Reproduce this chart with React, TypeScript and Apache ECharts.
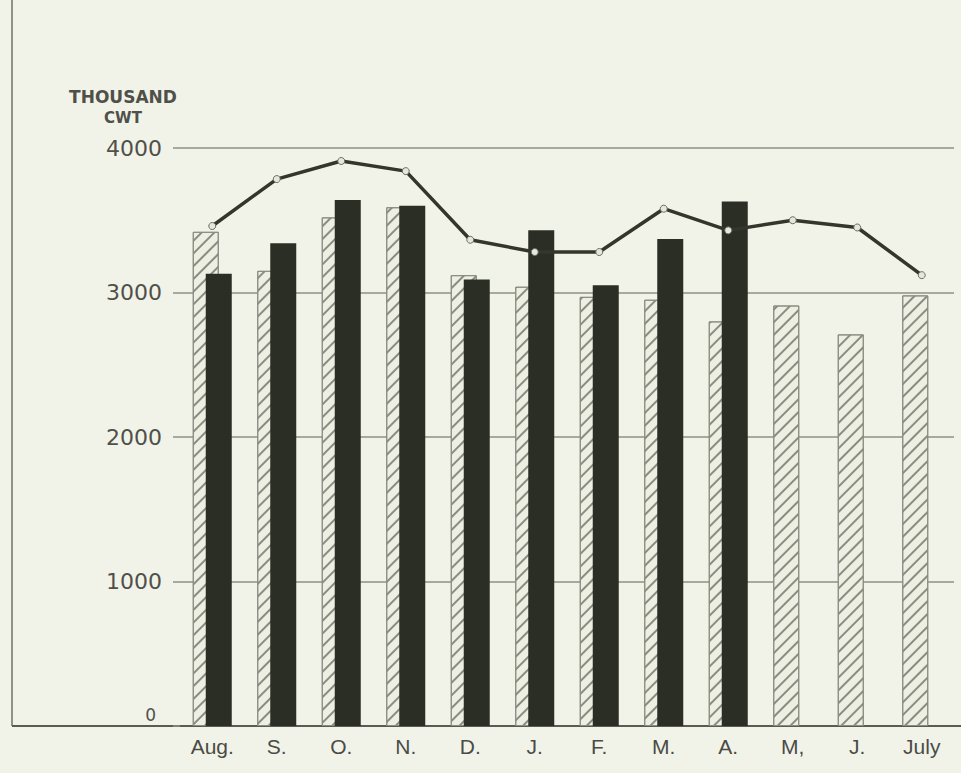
import React, { useEffect, useRef } from "react";
import * as echarts from "echarts";

const months = ["Aug.", "S.", "O.", "N.", "D.", "J.", "F.", "M.", "A.", "M,", "J.", "July"];
const hatchedValues = [3420, 3150, 3520, 3590, 3120, 3040, 2970, 2950, 2800, 2910, 2710, 2980];
const blackValues: (number | null)[] = [3130, 3340, 3640, 3600, 3090, 3430, 3050, 3370, 3630, null, null, null];
const lineValues = [3460, 3785, 3910, 3840, 3365, 3280, 3280, 3580, 3430, 3500, 3450, 3120];
const yTicks = { min: 0, max: 4000, interval: 1000 };

export default function App() {
  const ref = useRef<HTMLDivElement>(null);
  useEffect(() => {
    if (!ref.current) return;
    const chart = echarts.init(ref.current, null, { renderer: "svg" });
    const gridColor = "#8e8f86";
    chart.setOption({
      animation: false,
      backgroundColor: "#f2f3e8",
      grid: { left: 180, right: 7, top: 148, bottom: 47 },
      xAxis: {
        type: "category",
        data: months,
        axisLine: { show: true, lineStyle: { color: "#5a5b54", width: 2 } },
        axisTick: { show: false },
        axisLabel: {
          margin: 10,
          color: "#4a4b45",
          fontSize: 21,
          fontFamily: "'Liberation Sans Narrow', 'Liberation Sans', sans-serif",
        },
      },
      yAxis: {
        type: "value",
        min: yTicks.min,
        max: yTicks.max,
        interval: yTicks.interval,
        axisLine: { show: false },
        axisTick: { show: true, length: 7, lineStyle: { color: gridColor, width: 1.5 } },
        splitLine: { show: true, lineStyle: { color: gridColor, width: 1.5 } },
        axisLabel: {
          margin: 18,
          color: "#4f504a",
          fontSize: 22,
          fontFamily: "'DejaVu Sans', sans-serif",
          formatter: (v: number) => (v === 0 ? "{z|0}" : String(v)),
          rich: {
            z: { fontSize: 17, color: "#4f504a", fontFamily: "'DejaVu Sans', sans-serif", padding: [0, 6, 22, 0] },
          },
        },
      },
      graphic: [
        {
          type: "line",
          shape: { x1: 12, y1: 0, x2: 12, y2: 726 },
          style: { stroke: "#8f9088", lineWidth: 2 },
        },
        {
          type: "line",
          shape: { x1: 12, y1: 726, x2: 961, y2: 726 },
          style: { stroke: "#5a5b54", lineWidth: 2 },
        },
        {
          type: "text",
          x: 123,
          y: 97,
          style: {
            text: "THOUSAND",
            fill: "#4f504a",
            font: "bold 17px 'DejaVu Sans', sans-serif",
            textAlign: "center",
            textVerticalAlign: "middle",
          },
        },
        {
          type: "text",
          x: 123,
          y: 118,
          style: {
            text: "CWT",
            fill: "#4f504a",
            font: "bold 15px 'DejaVu Sans', sans-serif",
            textAlign: "center",
            textVerticalAlign: "middle",
          },
        },
      ],
      series: [
        {
          name: "hatched",
          type: "bar",
          data: hatchedValues,
          barWidth: 26,
          barGap: "-50%",
          itemStyle: {
            color: "#eeefe3",
            borderColor: "#8a8b82",
            borderWidth: 1,
            decal: {
              symbol: "rect",
              symbolSize: 1,
              color: "#8a8b82",
              dashArrayX: [1, 0],
              dashArrayY: [1.3, 6.5],
              rotation: -Math.PI / 4,
            },
          },
          z: 2,
        },
        {
          name: "black",
          type: "bar",
          data: blackValues,
          barWidth: 26,
          barGap: "-50%",
          itemStyle: { color: "#2b2e25" },
          z: 3,
        },
        {
          name: "line",
          type: "line",
          data: lineValues,
          symbol: "circle",
          symbolSize: 7,
          lineStyle: { color: "#33362d", width: 3.5 },
          itemStyle: { color: "#e6e7dc", borderColor: "#6a6b63", borderWidth: 1 },
          z: 5,
        },
      ],
    });
    return () => chart.dispose();
  }, []);
  return (
    <div
      ref={ref}
      style={{ position: "fixed", left: 0, top: 0, width: 961, height: 773 }}
    />
  );
}
